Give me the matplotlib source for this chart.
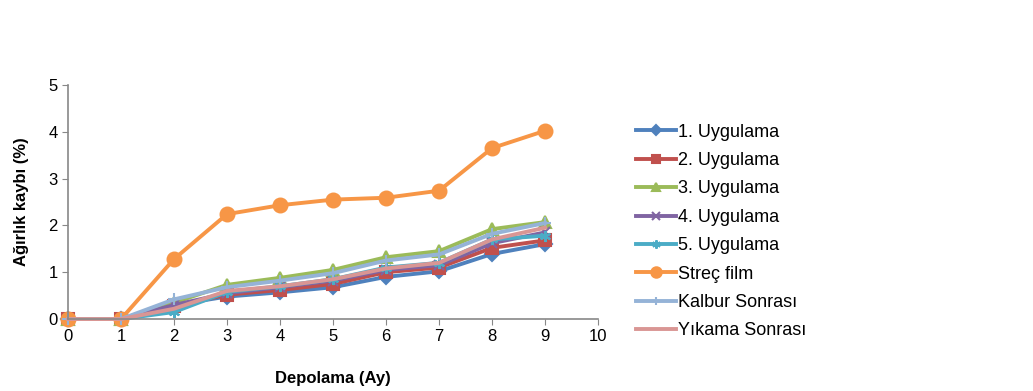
import matplotlib
matplotlib.use("Agg")
import matplotlib.pyplot as plt

plt.rcParams['font.family'] = ['Liberation Sans', 'DejaVu Sans']

months = [0, 1, 2, 3, 4, 5, 6, 7, 8, 9]

uyg1 = [0, 0, 0.30, 0.48, 0.57, 0.68, 0.90, 1.02, 1.39, 1.60]
uyg2 = [0, 0, 0.28, 0.52, 0.62, 0.75, 1.00, 1.10, 1.52, 1.68]
uyg3 = [0, 0, 0.35, 0.73, 0.88, 1.05, 1.32, 1.45, 1.92, 2.07]
uyg4 = [0, 0, 0.30, 0.55, 0.68, 0.82, 1.05, 1.15, 1.62, 1.85]
uyg5 = [0, 0, 0.15, 0.58, 0.70, 0.85, 1.10, 1.20, 1.70, 1.78]
strec = [0, 0, 1.28, 2.24, 2.43, 2.55, 2.59, 2.74, 3.65, 4.02]
kalbur = [0, 0, 0.42, 0.68, 0.82, 0.98, 1.25, 1.38, 1.82, 2.05]
yikama = [0, 0, 0.22, 0.60, 0.70, 0.85, 1.08, 1.20, 1.70, 1.95]

series = [
    ("1. Uygulama", uyg1, "#4F81BD", "D", 7),
    ("2. Uygulama", uyg2, "#C0504D", "s", 8),
    ("3. Uygulama", uyg3, "#9BBB59", "^", 8),
    ("4. Uygulama", uyg4, "#8064A2", "x", 7),
    ("5. Uygulama", uyg5, "#4BACC6", (6, 2, 0), 8),
    ("Streç film", strec, "#F79646", "o", 10),
    ("Kalbur Sonrası", kalbur, "#95B3D7", "+", 8),
    ("Yıkama Sonrası", yikama, "#D99694", None, 0),
]

fig = plt.figure(figsize=(10.33, 3.91), dpi=100)
ax = fig.add_axes([0.0658, 0.184, 0.5132, 0.599])

for name, vals, color, marker, ms in series:
    ax.plot(months, vals, color=color, lw=2.8, marker=marker, markersize=ms,
            markeredgecolor=color, markeredgewidth=1.5, label=name, clip_on=False)

ax.set_xlim(0, 10)
ax.set_ylim(0, 5)
ax.set_xticks(range(0, 11))
ax.set_yticks(range(0, 6))
ax.tick_params(labelsize=12, colors='#888888', labelcolor='black', length=4)
for s in ['top', 'right']:
    ax.spines[s].set_visible(False)
for s in ['left', 'bottom']:
    ax.spines[s].set_color('#888888')
    ax.spines[s].set_linewidth(1.2)
ax.set_xlabel('Depolama (Ay)', fontsize=12, fontweight='bold', labelpad=19)
ax.set_ylabel('Ağırlık kaybı (%)', fontsize=12, fontweight='bold', labelpad=14)

fig.legend(loc='upper left', bbox_to_anchor=(0.609, 0.702), frameon=False,
           fontsize=13, handlelength=2.2, labelspacing=0.63, handletextpad=0.1,
           borderaxespad=0, markerscale=0.75)

fig.savefig('out.png', dpi=100)
